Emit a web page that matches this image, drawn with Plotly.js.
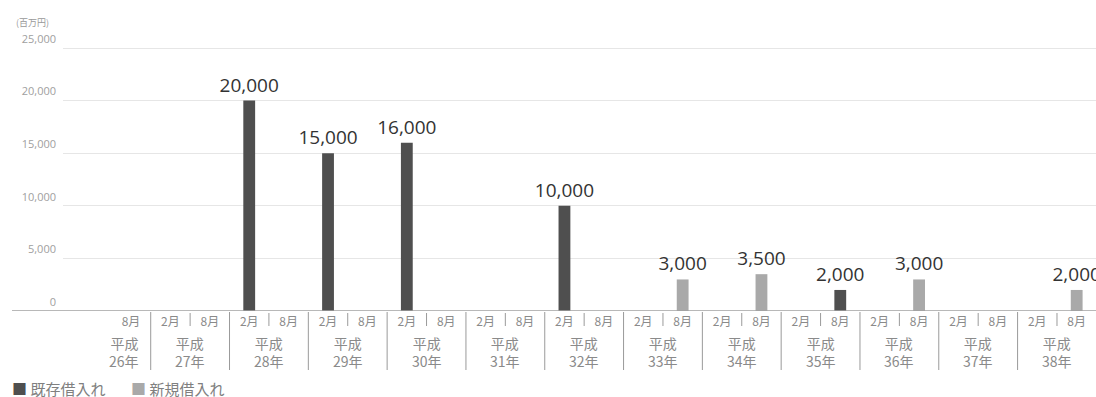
<!DOCTYPE html>
<html><head><meta charset="utf-8">
<script src="https://cdn.plot.ly/plotly-3.0.1.min.js"></script>
<style>html,body{margin:0;padding:0;background:#fff}#chart{width:1096px;height:397px}</style>
</head><body><div id="chart"></div>
<script>
// Half-year periods (平成 year + month)
const periodYears = [26,27,27,28,28,29,29,30,30,31,31,32,32,33,33,34,34,35,35,36,36,37,37,38,38];
const periodMonths = ['8月','2月','8月','2月','8月','2月','8月','2月','8月','2月','8月','2月','8月','2月','8月','2月','8月','2月','8月','2月','8月','2月','8月','2月','8月'];
// Values in 百万円 (null = no borrowing)
const existingLoans = [null,null,null,20000,null,15000,null,16000,null,null,null,10000,null,null,null,null,null,null,2000,null,null,null,null,null,null];
const newLoans      = [null,null,null,null,null,null,null,null,null,null,null,null,null,null,3000,null,3500,null,null,null,3000,null,null,null,2000];
const seriesNames = ['既存借入れ','新規借入れ'];
const yUnit = '(百万円)';
const yTicks = [0,5000,10000,15000,20000,25000];

const cats = periodYears.map((y,i)=> 'H'+y+'-'+periodMonths[i]);
const darkC = '#4f4f4f', lightC = '#a9a9a9';
const cjk = 'Noto Sans CJK JP, sans-serif';

function barTrace(vals, name, color){
  const xs = [], ys = [];
  vals.forEach((v,i)=>{ if(v!==null){ xs.push(cats[i]); ys.push(v); } });
  return {
    type:'bar', x:xs, y:ys, name:name, width:0.3,
    marker:{color:color, line:{width:0}},
    texttemplate:'%{y:,}', textposition:'outside', constraintext:'none',
    textfont:{family:'Open Sans, sans-serif', size:19, color:'#333'},
    hoverinfo:'skip', showlegend:false
  };
}
const traces = [barTrace(existingLoans, seriesNames[0], darkC), barTrace(newLoans, seriesNames[1], lightC)];

const shapes = [];
const annotations = [];
// baseline extending left beyond plot
shapes.push({type:'line', xref:'paper', yref:'y', x0:(12-63)/1033, x1:1, y0:0, y1:0, line:{color:'#a0a0a0', width:1.5}, layer:'above'});
// year groups
const uniqYears = [...new Set(periodYears)];
uniqYears.forEach(y=>{
  const idx = periodYears.map((v,i)=>v===y?i:-1).filter(i=>i>=0);
  const first = idx[0], last = idx[idx.length-1];
  if(first>0){
    shapes.push({type:'line', xref:'x', yref:'paper', ysizemode:'pixel', yanchor:0, x0:first-0.5, x1:first-0.5, y0:-1, y1:-59, line:{color:'#9a9a9a', width:1}});
  }
  if(last>first){
    shapes.push({type:'line', xref:'x', yref:'paper', ysizemode:'pixel', yanchor:0, x0:last-0.5, x1:last-0.5, y0:-2, y1:-15, line:{color:'#9a9a9a', width:1}});
  }
  const single = (last===first);
  annotations.push({xref:'x', yref:'paper', x: single ? first+0.25 : (first+last)/2, xanchor: single ? 'right':'center',
    y:0, yanchor:'top', yshift:-20, showarrow:false, align: single ? 'right':'center',
    text:'平成<br>'+y+'年', font:{family:cjk, size:14, color:'#8a8a8a'}});
});
// unit label
annotations.push({xref:'paper', yref:'paper', x:(14-63)/1033, xanchor:'left', y:1, yanchor:'middle', yshift:18, showarrow:false,
  text:yUnit, font:{family:cjk, size:9, color:'#999'}});
// legend
annotations.push({xref:'paper', yref:'paper', x:(10-63)/1033, xanchor:'left', y:0, yanchor:'middle', yshift:-77, showarrow:false,
  text:'<span style="color:'+darkC+'">■</span> '+seriesNames[0], font:{family:cjk, size:15, color:'#808080'}});
annotations.push({xref:'paper', yref:'paper', x:(129-63)/1033, xanchor:'left', y:0, yanchor:'middle', yshift:-77, showarrow:false,
  text:'<span style="color:'+lightC+'">■</span> '+seriesNames[1], font:{family:cjk, size:15, color:'#808080'}});

const layout = {
  width:1096, height:397,
  margin:{l:63, r:0, t:40, b:86, pad:0},
  paper_bgcolor:'#fff', plot_bgcolor:'#fff',
  barmode:'overlay', showlegend:false,
  xaxis:{type:'category', categoryorder:'array', categoryarray:cats, range:[-1.726, 24.49],
    tickmode:'array', tickvals:cats, ticktext:periodMonths, showgrid:false, zeroline:false, showline:false, ticks:'',
    tickfont:{family:cjk, size:12, color:'#8a8a8a'}, ticklabelstandoff:2, fixedrange:true},
  yaxis:{range:[0, 25760], tickmode:'array', tickvals:yTicks, ticktext:yTicks.map(v=>v.toLocaleString('en-US')),
    showgrid:true, gridcolor:'#e6e6e6', gridwidth:1, zeroline:false, showline:false, ticks:'',
    tickfont:{family:'Open Sans, sans-serif', size:11, color:'#a0a0a0'}, ticklabelshift:-9, ticklabelstandoff:6, fixedrange:true},
  shapes:shapes, annotations:annotations
};
Plotly.newPlot('chart', traces, layout, {staticPlot:true, displayModeBar:false});
</script>
</body></html>
